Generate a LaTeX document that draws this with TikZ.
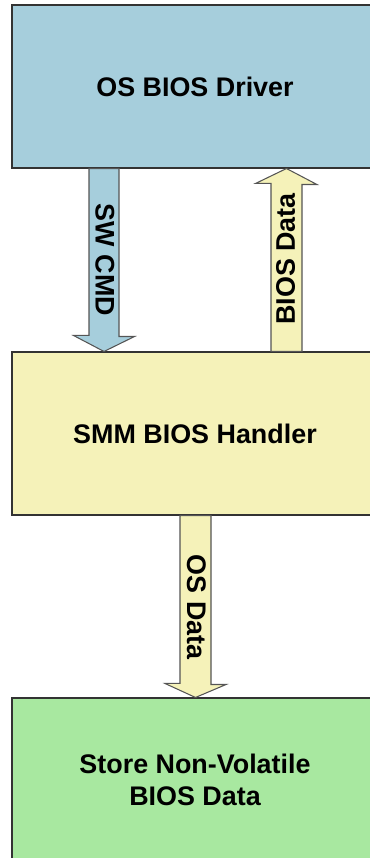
\documentclass[tikz,border=0pt]{standalone}
\usepackage{fontspec}
\setmainfont{Liberation Sans}
\usepackage{xcolor}
\usepackage{tikz}
\usetikzlibrary{positioning, calc}
\definecolor{drvblue}{HTML}{A6CEDC}
\definecolor{smmyellow}{HTML}{F5F2B9}
\definecolor{nvgreen}{HTML}{A8E8A0}
\definecolor{boxedge}{HTML}{333333}
\definecolor{arrowedge}{HTML}{555555}
\tikzset{
  blockbox/.style={draw=boxedge, line width=0.6pt, minimum width=7.32cm, minimum height=3.26cm, align=center, font=\bfseries\fontsize{15.3}{18.2}\selectfont, text=black},
  drvnode/.style={blockbox, fill=drvblue},
  smmnode/.style={blockbox, fill=smmyellow},
  storenode/.style={blockbox, fill=nvgreen, minimum height=3.28cm},
  fatarrow/.style={draw=arrowedge, line width=0.6pt, line join=miter},
  cmdarrow/.style={fatarrow, fill=drvblue},
  dataarrow/.style={fatarrow, fill=smmyellow},
  arrowlabel/.style={font=\bfseries\fontsize{15.3}{18.2}\selectfont, inner sep=0pt, text=black}
}
\begin{document}
\begin{tikzpicture}
  \useasboundingbox (0,0) rectangle (7.38,17.16);

  \node[drvnode] at (3.9,15.43) (osdrv) {OS BIOS Driver};
  \node[smmnode] at (3.9,8.49) (smm) {SMM BIOS Handler};
  \node[storenode] at (3.9,1.56) (store) {Store Non-Volatile \\ BIOS Data};

  % SW CMD: driver -> handler
  \draw[cmdarrow] (smm.north -| 2.08,0) -- ++(-0.61,0.32) -- ++(0.31,0)
    -- (osdrv.south -| 1.78,0) -- ++(0.6,0) -- ++(0,-3.36) -- ++(0.31,0) -- cycle;
  \node[arrowlabel, rotate=-90] at (2.1,11.96) (cmdlbl) {SW CMD};

  % BIOS Data: handler -> driver
  \draw[dataarrow] (osdrv.south -| 5.73,0) -- ++(0.61,-0.32) -- ++(-0.3,0)
    -- (smm.north -| 6.04,0) -- ++(-0.62,0) -- ++(0,3.36) -- ++(-0.31,0) -- cycle;
  \node[arrowlabel, rotate=90] at (5.71,11.98) (biosdatalbl) {BIOS Data};

  % OS Data: handler -> store
  \draw[dataarrow] (store.north -| 3.91,0) -- ++(-0.61,0.28) -- ++(0.3,0)
    -- (smm.south -| 3.6,0) -- ++(0.62,0) -- ++(0,-3.38) -- ++(0.3,0) -- cycle;
  \node[arrowlabel, rotate=-90] at (3.93,5.02) (osdatalbl) {OS Data};
\end{tikzpicture}
\end{document}
